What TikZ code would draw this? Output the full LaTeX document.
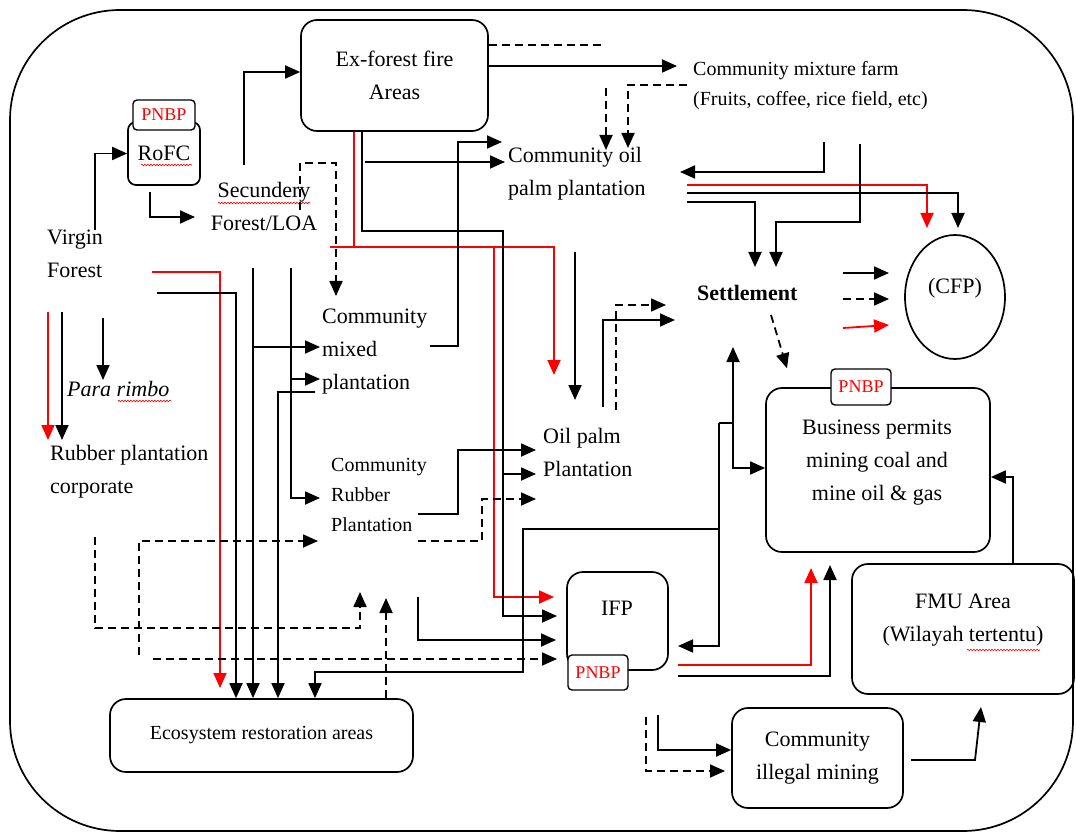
\documentclass[tikz,border=0pt]{standalone}
\usepackage{fontspec}
\setmainfont{Liberation Serif}
\usetikzlibrary{arrows.meta,shapes.geometric,decorations.pathmorphing}

\newcommand\bigtxt{\fontsize{22}{33}\selectfont}
\newcommand\midtxt{\fontsize{20}{30}\selectfont}

\tikzset{
  box/.style={draw, rounded corners=16pt, line width=1.7pt, align=center},
  tag/.style={draw, rounded corners=4pt, line width=1.4pt, fill=white, text=red,
    font=\fontsize{18}{20}\selectfont, inner sep=2pt},
  txt/.style={align=left, inner sep=0pt, anchor=base west},
  wire/.style={line width=1.8pt},
  flow/.style={wire, -{Triangle[length=15pt,width=13pt]}},
  dflow/.style={flow, dash pattern=on 8pt off 5pt},
  dwire/.style={wire, dash pattern=on 8pt off 5pt},
  rflow/.style={flow, red},
  squig/.style={red, line width=0.6pt, decorate,
    decoration={snake, amplitude=0.8pt, segment length=3pt}},
}

\begin{document}
\begin{tikzpicture}[x=1pt, y=-1pt, font=\bigtxt]
\useasboundingbox (0,0) rectangle (1076,834);

% frame
\draw[line width=1.7pt, rounded corners=110pt] (10,10) rectangle (1073,831);

% boxes
\node[box, minimum width=187pt, minimum height=111pt] (exfire) at (394.5,75.5) {Ex-forest fire\\Areas};
\node[box, rounded corners=8pt, minimum width=72pt, minimum height=63pt] (rofc) at (164,153.5) {RoFC};
\node[tag, minimum width=62pt, minimum height=30pt] (rofctag) at (164,115) {PNBP};
\node[box, minimum width=303pt, minimum height=73pt, font=\midtxt] (eco) at (261.5,735.5) {Ecosystem restoration areas};
\node[box, minimum width=101pt, minimum height=98pt] (ifp) at (617.5,621) {};
\node (ifptxt) at (617,608) {IFP};
\node[tag, minimum width=60pt, minimum height=35pt] (ifptag) at (598,672.5) {PNBP};
\node[box, minimum width=224pt, minimum height=164pt] (bp) at (878,470) {};
\node[align=center] (bptxt) at (877,463) {Business permits\\mining coal and\\mine oil \& gas};
\node[tag, minimum width=60pt, minimum height=36pt] (bptag) at (861,387) {PNBP};
\node[box, minimum width=222pt, minimum height=130pt] (fmu) at (963,629) {};
\node[align=center] (fmutxt) at (963,620) {FMU Area\\(Wilayah tertentu)};
\node[box, minimum width=171pt, minimum height=100pt] (illegal) at (817.5,758) {Community\\illegal mining};
\node[draw, ellipse, line width=1.7pt, minimum width=100pt, minimum height=124pt] (cfp) at (955,297) {};
\node (cfptxt) at (955,288) {(CFP)};

% plain labels (placed at the baseline of their last line)
\node[txt] (virgin) at (47,278) {Virgin\\Forest};
\node[txt, align=center, anchor=base] (secund) at (264,231) {Secundery\\Forest/LOA};
\node[txt] (mixed) at (322,389) {Community\\mixed\\plantation};
\node[txt] (coilpalm) at (508,196) {Community oil\\palm plantation};
\node[txt, font=\midtxt] (mixfarm) at (693,106) {Community mixture farm\\(Fruits, coffee, rice field, etc)};
\node[txt] (oilpalm) at (543,476) {Oil palm\\Plantation};
\node[txt, font=\midtxt] (rubber) at (331,531) {Community\\Rubber\\Plantation};
\node[txt, font=\bigtxt\itshape] (para) at (67,396) {Para rimbo};
\node[txt] (corp) at (50,493) {Rubber plantation\\corporate};
\node[txt, font=\bigtxt\bfseries] (settle) at (697,301) {Settlement};

% spelling marks
\draw[squig] (141,165) -- (192,165);
\draw[squig] (218,203) -- (310,203);
\draw[squig] (118,401) -- (171,401);
\draw[squig] (967,650) -- (1040,650);

% from the fire areas
\draw[dwire] (exfire.east |- 0,45) -- (605,45);
\draw[flow] (exfire.east |- 0,66) -- (677,66);
\draw[dflow] (606,88) -- (606,150);
\draw[dflow] (687,85) -| (628,148);
\draw[wire, red] (exfire.south -| 354,0) -- (354,247);
\draw[rflow] (330,247) -| (554,375);
\draw[rflow] (494,247) |- (554,597);
\draw[flow] (exfire.south -| 362,0) |- (503,231) |- (557,616);
\draw[flow] (503,474) -- (536,474);
\draw[flow] (365,162) -- (505,162);

% virgin forest and RoFC
\draw[flow] (95,230) |- (rofc.west);
\draw[flow] (150,192) |- (195,217);
\draw[flow] (244,165) |- (exfire.west |- 0,72);
\draw[dflow] (300,210) |- (336,163) -- (336,296);
\draw[rflow] (152,272) -| (220,688);
\draw[flow] (157,293) -| (eco.north -| 236,0);
\draw[flow] (103,318) -- (103,380);
\draw[rflow] (48,312) -- (48,440);
\draw[flow] (62,312) -- (62,440);

% secondary forest
\draw[flow] (253,268) -- (eco.north -| 253,0);
\draw[flow] (253,347) -- (320,347);
\draw[flow] (291,268) |- (320,498);
\draw[flow] (291,379) -- (320,379);
\draw[flow] (315,392) -| (eco.north -| 278,0);
\draw[flow] (430,346) -| (458,142) -- (502,142);

% rubber and oil palm
\draw[dflow] (95,537) |- (360,628) -- (360,592);
\draw[dflow] (139,655) |- (318,541);
\draw[dflow] (153,659) -- (557,659);
\draw[dflow] (eco.north -| 386,0) -- (386,598);
\draw[flow] (418,514) -| (458,450) -- (536,450);
\draw[dflow] (418,541) -| (482,499) -- (536,499);
\draw[flow] (418,597) |- (556,640);
\draw[flow] (575,252) -- (575,400);
\draw[flow] (603,407) |- (675,320);
\draw[dflow] (616,410) |- (666,305);

% links round IFP
\draw[flow] (719,423) -- (719,646) -- (678,646);
\draw[flow] (719,529) -- (523,529) |- (315,672) -- (eco.north -| 315,0);
\draw[flow] (719,423) -- (733,423) -- (733,347);
\draw[flow] (733,423) |- (bp.west |- 0,468);
\draw[rflow] (678,665) -| (811,568);
\draw[flow] (678,676) -| (830,565);

% mixture farm, oil palm to settlement and CFP
\draw[flow] (824,142) |- (680,172);
\draw[rflow] (687,185) -| (927,228);
\draw[flow] (687,193) -| (958,228);
\draw[flow] (687,202) -| (755,267);
\draw[flow] (860,144) |- (776,222) -- (776,267);
\draw[flow] (843,273) -- (889,273);
\draw[dflow] (843,299) -- (889,299);
\draw[rflow] (843,328) -- (889,325);
\draw[dflow] (771,315) -- (bptag.north west -| 787,0);

% mining
\draw[flow] (fmu.north -| 1013,0) |- (bp.east |- 0,477);
\draw[flow] (658,715) |- (illegal.west |- 0,750);
\draw[dflow] (646,717) |- (725,771);
\draw[flow] (911,760) -- (975,760) -- (981,707);
\end{tikzpicture}
\end{document}
